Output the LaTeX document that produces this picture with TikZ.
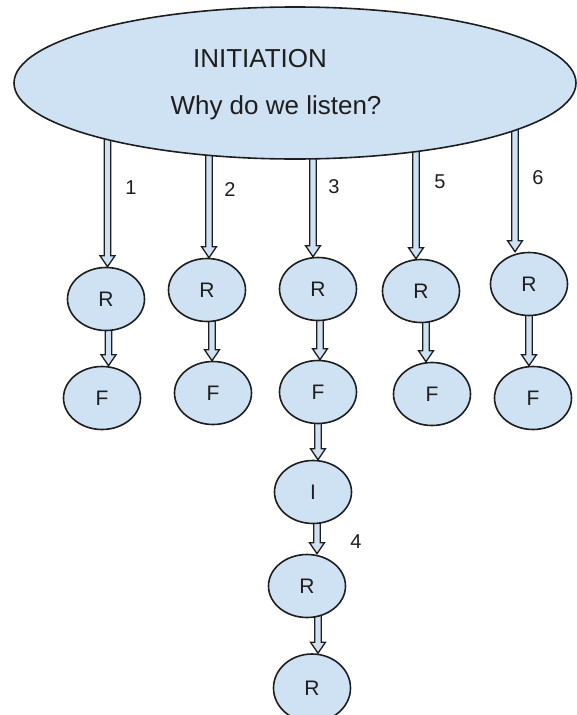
\documentclass[tikz,border=0pt]{standalone}
\usepackage{fontspec}
\setmainfont{Liberation Sans}
\usetikzlibrary{calc,shapes.geometric,backgrounds}
\definecolor{bubble}{RGB}{207,226,243}
\definecolor{ink}{RGB}{30,30,30}
\tikzset{
  stage/.style={ellipse, draw=ink, line width=1.6pt, fill=bubble,
    minimum width=77pt, minimum height=63pt, inner sep=0pt,
    font=\fontsize{21}{24}\selectfont, text=ink},
  title/.style={font=\fontsize{26}{30}\selectfont, text=ink, anchor=base},
  num/.style={font=\fontsize{20}{24}\selectfont, text=ink},
  % hollow block arrow: shaft and head outlined, filled pale blue
  blockarrow/.style={draw=ink, line width=1.3pt, fill=bubble, line join=miter,
    to path={let \p1=(\tikztostart), \p2=(\tikztotarget) in
      (\x1-3.2pt,\y1) -- (\x1-3.2pt,\y2+11pt) -- (\x1-7.5pt,\y2+11pt)
      -- (\x1,\y2) -- (\x1+7.5pt,\y2+11pt) -- (\x1+3.2pt,\y2+11pt)
      -- (\x1+3.2pt,\y1) -- cycle}}
}
\begin{document}
\begin{tikzpicture}[x=1pt,y=-1pt]
\useasboundingbox (0,0) rectangle (577,715);

% central question
\node[ellipse, draw=ink, line width=1.6pt, fill=bubble, minimum width=562pt,
  minimum height=152pt, inner sep=0pt] (init) at (295,83) {};
\node[title] (inittitle) at (260,67) {INITIATION};
\node[title] (initq) at (276,114) {Why do we listen?};

% first row: responses
\node[stage] (r1) at (106,299) {R};
\node[stage] (r2) at (207,290) {R};
\node[stage] (r3) at (318,289) {R};
\node[stage] (r5) at (421,291) {R};
\node[stage] (r6) at (529,284) {R};

% second row: feedback
\node[stage] (f1) at (102,398) {F};
\node[stage] (f2) at (213,393) {F};
\node[stage] (f3) at (318,392) {F};
\node[stage] (f5) at (432,394) {F};
\node[stage] (f6) at (533,398) {F};

% extended chain under the third branch
\node[stage] (i3) at (313,492) {I};
\node[stage] (r4) at (307,586) {R};
\node[stage, minimum height=68pt] (r7) at (312,688) {R};

% branch roots inside the ellipse
\coordinate (s1) at (107.5,83);
\coordinate (s2) at (209,83);
\coordinate (s3) at (313,83);
\coordinate (s5) at (416,83);
\coordinate (s6) at (515,83);

\begin{scope}[on background layer]
  \draw[blockarrow] (s1) to (r1.north);
  \draw[blockarrow] (s2) to (r2.north);
  \draw[blockarrow] (s3) to (r3.north);
  \draw[blockarrow] (s5) to (r5.north);
  \draw[blockarrow] (s6) to (r6.north);

  \draw[blockarrow] ([xshift=2.5pt]r1.center) to (f1.north);
  \draw[blockarrow] ([xshift=5pt]r2.center) to (f2.north);
  \draw[blockarrow] ([xshift=2pt]r3.center) to (f3.north);
  \draw[blockarrow] ([xshift=5pt]r5.center) to (f5.north);
  \draw[blockarrow] (r6.center) to (f6.north);
  \draw[blockarrow] (f3.center) to (i3.north);
  \draw[blockarrow] ([xshift=4pt]i3.center) to (r4.north);
  \draw[blockarrow] ([xshift=11pt]r4.center) to (r7.north);
\end{scope}

% branch numbers
\node[num] (n1) at (131,188) {1};
\node[num] (n2) at (230,190) {2};
\node[num] (n3) at (334,187) {3};
\node[num] (n5) at (440,182) {5};
\node[num] (n6) at (538,178) {6};
\node[num] (n4) at (356,542) {4};
\end{tikzpicture}
\end{document}
